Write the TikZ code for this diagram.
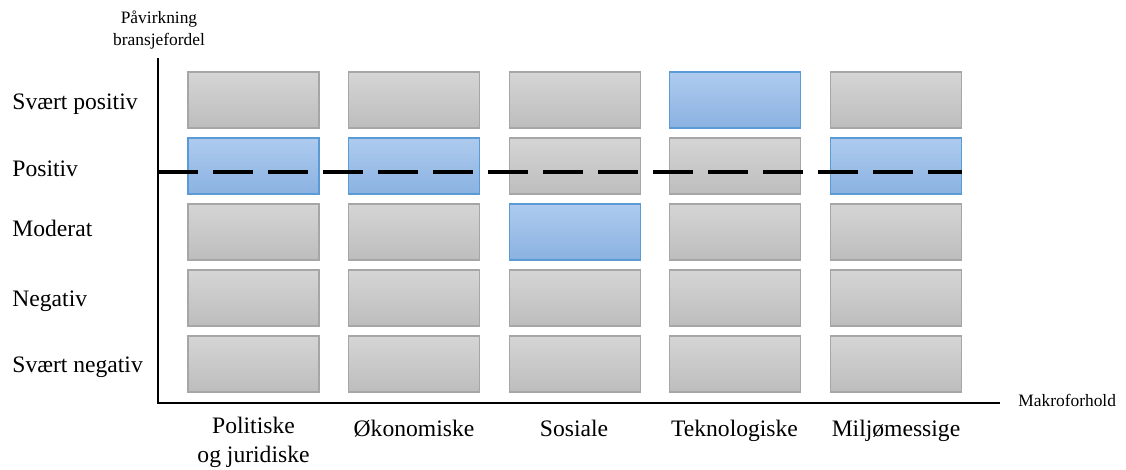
\documentclass[tikz,border=0pt]{standalone}
\usepackage{fontspec}
\setmainfont{Liberation Serif}
\usetikzlibrary{positioning}

\definecolor{graytop}{HTML}{D5D5D5}
\definecolor{graybot}{HTML}{BDBDBD}
\definecolor{grayline}{HTML}{A6A6A6}
\definecolor{bluetop}{HTML}{AECBEE}
\definecolor{bluebot}{HTML}{8AB2E1}
\definecolor{blueline}{HTML}{5B9BD5}

\begin{document}
\begin{tikzpicture}[x=0.5pt,y=0.5pt,
  cell/.style = {draw=grayline, top color=graytop, bottom color=graybot, line width=0.6pt,
                 minimum width=65.5pt, minimum height=28pt, inner sep=0pt},
  hit/.style = {draw=blueline, top color=bluetop, bottom color=bluebot},
  level/.style = {anchor=base west, inner sep=0pt, font=\fontsize{11.8}{14.5}\selectfont},
  factor/.style = {align=center, inner sep=0pt, font=\fontsize{11.8}{14.5}\selectfont},
  axislabel/.style = {inner sep=0pt, font=\fontsize{8.7}{10.6}\selectfont},
  node distance={33pt and 80.3pt}, on grid]
\useasboundingbox (0,0) rectangle (1126,470);

% felt: rad = paavirkning, kolonne = makroforhold
\node[cell] (sp1) at (253.5,370) {};
\node[cell] (sp2) [right=of sp1] {};
\node[cell] (sp3) [right=of sp2] {};
\node[cell,hit] (sp4) [right=of sp3] {};
\node[cell] (sp5) [right=of sp4] {};
\node[cell,hit] (po1) [below=of sp1] {};
\node[cell,hit] (po2) [right=of po1] {};
\node[cell] (po3) [right=of po2] {};
\node[cell] (po4) [right=of po3] {};
\node[cell,hit] (po5) [right=of po4] {};
\node[cell] (mo1) [below=of po1] {};
\node[cell] (mo2) [right=of mo1] {};
\node[cell,hit] (mo3) [right=of mo2] {};
\node[cell] (mo4) [right=of mo3] {};
\node[cell] (mo5) [right=of mo4] {};
\node[cell] (ne1) [below=of mo1] {};
\node[cell] (ne2) [right=of ne1] {};
\node[cell] (ne3) [right=of ne2] {};
\node[cell] (ne4) [right=of ne3] {};
\node[cell] (ne5) [right=of ne4] {};
\node[cell] (sn1) [below=of ne1] {};
\node[cell] (sn2) [right=of sn1] {};
\node[cell] (sn3) [right=of sn2] {};
\node[cell] (sn4) [right=of sn3] {};
\node[cell] (sn5) [right=of sn4] {};

% akser
\coordinate (O) at (158,67);
\coordinate (ytop) at (158,412);
\coordinate (xend) at (1000,67);
\draw[line width=0.8pt] (ytop) -- (O) -- (xend);

% gjennomsnittslinje
\coordinate (dl) at (158,298);
\coordinate (dr) at (962,298);
\draw[line width=2pt, dash pattern=on 20pt off 7.5pt] (dl) -- (dr);

% radtekster
\node[level] (l1) at (12,360) {Svært positiv};
\node[level] (l2) at (12,293) {Positiv};
\node[level] (l3) at (12,233) {Moderat};
\node[level] (l4) at (12,163) {Negativ};
\node[level] (l5) at (12,97) {Svært negativ};

% kolonnetekster
\node[factor] (f1) at (253.5,28) {Politiske\\og juridiske};
\node[factor,anchor=base] (f2) at (414,33) {Økonomiske};
\node[factor,anchor=base] (f3) at (574,33) {Sosiale};
\node[factor,anchor=base] (f4) at (734.5,33) {Teknologiske};
\node[factor,anchor=base] (f5) at (896,33) {Miljømessige};

\node[axislabel,align=center] (ylab) at (159,440) {Påvirkning\\bransjefordel};
\node[axislabel,anchor=base west] (xlab) at (1018,63) {Makroforhold};
\end{tikzpicture}
\end{document}
